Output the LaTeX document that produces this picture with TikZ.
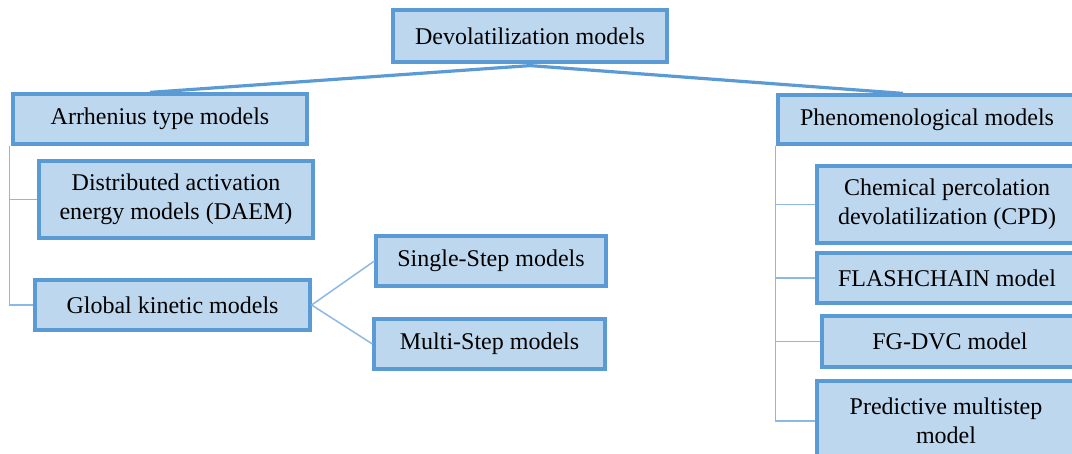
\documentclass[tikz,border=0pt]{standalone}
\usepackage{fontspec}
\setmainfont{Liberation Serif}
\usepackage{tikz}
\usetikzlibrary{positioning,calc}
\usepackage{xcolor}
\definecolor{boxfill}{RGB}{189,215,238}
\definecolor{boxedge}{RGB}{91,155,213}
\definecolor{treeblue}{RGB}{140,185,228}

\begin{document}
\begin{tikzpicture}[
    x=1pt, y=-1pt,
    modelbox/.style={draw=boxedge, fill=boxfill, line width=3.2pt,
                     align=center, inner sep=0pt,
                     font=\fontsize{24}{29}\selectfont},
    branchline/.style={draw=boxedge, line width=3.2pt},
    treeline/.style={draw=treeblue, line width=1.5pt}
]
\path[use as bounding box, clip] (0,0) rectangle (1072,454);

% root and the two families
\node[modelbox, minimum width=274pt, minimum height=52pt] (root) at (530,36)
    {Devolatilization models};
\node[modelbox, minimum width=294pt, minimum height=50pt] (arr) at (160,119)
    {Arrhenius type models};
\node[modelbox, minimum width=298pt, minimum height=49pt] (phen) at (927,119.5)
    {Phenomenological models};

% Arrhenius branch
\node[modelbox, minimum width=274pt, minimum height=77pt] (daem) at (176,199.5)
    {Distributed activation\\energy models (DAEM)};
\node[modelbox, minimum width=275pt, minimum height=50pt] (glob) at (172.5,305)
    {Global kinetic models};
\node[modelbox, minimum width=230pt, minimum height=50pt] (single) at (491,261)
    {Single-Step models};
\node[modelbox, minimum width=231pt, minimum height=50pt] (multi) at (489.5,344)
    {Multi-Step models};

% phenomenological branch
\node[modelbox, minimum width=260pt, minimum height=77pt] (cpd) at (947,204.5)
    {Chemical percolation\\devolatilization (CPD)};
\node[modelbox, minimum width=260pt, minimum height=50pt] (flash) at (947,278)
    {FLASHCHAIN model};
\node[modelbox, minimum width=256pt, minimum height=51pt] (fgdvc) at (950,341.5)
    {FG-DVC model};
\node[modelbox, minimum width=258pt, minimum height=80pt] (pred) at (946,421)
    {Predictive multistep\\model};

% connectors
\draw[branchline] ([xshift=-10pt]arr.north) -- ([yshift=-2pt]root.south)
    -- ([xshift=-24pt]phen.north);

\draw[treeline] ([xshift=-2pt]arr.south west) |- (daem.west);
\draw[treeline] ([xshift=-2pt]arr.south west) |- (glob.west);

\draw[treeline] (glob.east) -- (single.west);
\draw[treeline] (glob.east) -- (multi.west);

\foreach \leaf in {cpd,flash,fgdvc,pred}
    \draw[treeline] ([xshift=-1pt]phen.south west) |- (\leaf.west);
\end{tikzpicture}
\end{document}
